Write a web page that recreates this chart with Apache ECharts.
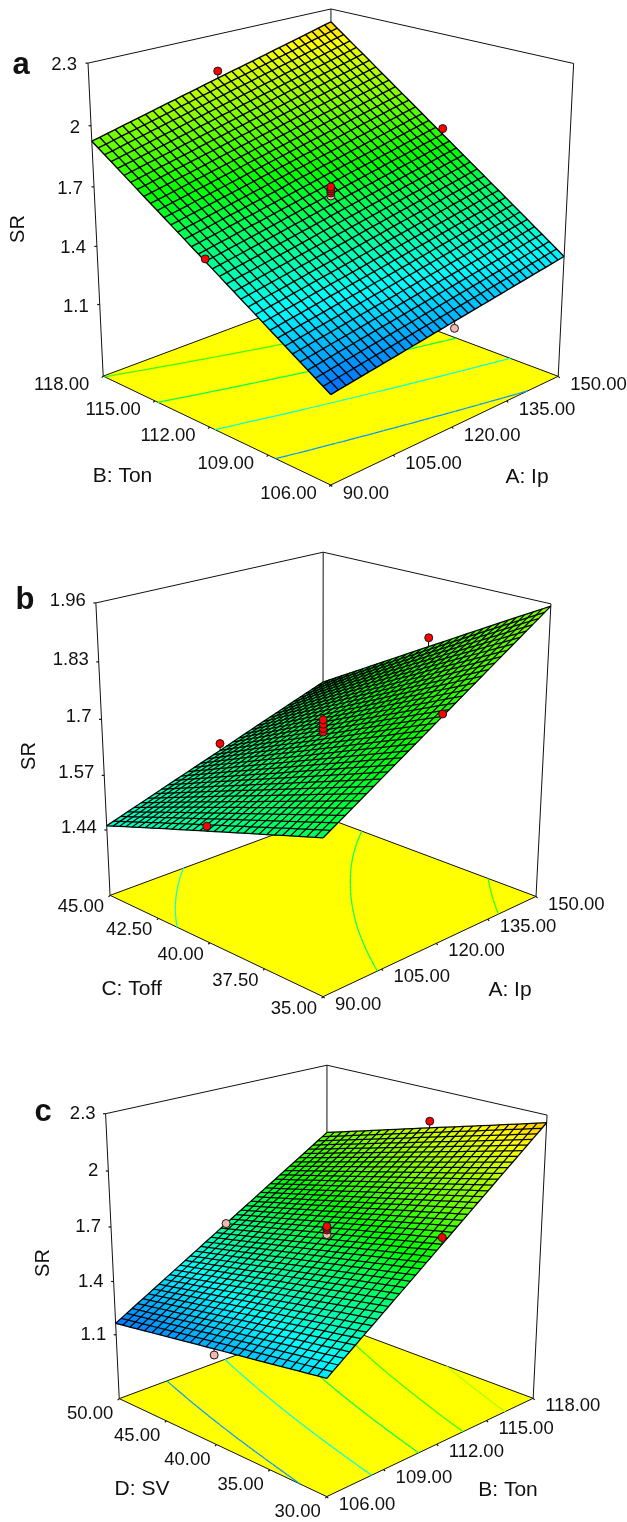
<!DOCTYPE html>
<html><head><meta charset="utf-8">
<style>html,body{margin:0;padding:0;background:#fff}#chart{width:627px;height:1522px}</style>
<script src="https://cdn.jsdelivr.net/npm/echarts@6/dist/echarts.min.js"></script>
</head><body><div id="chart"></div>
<script>
// ---------- data ----------
const ipTicks = [90, 105, 120, 135, 150];
const tonTicks = [106, 109, 112, 115, 118];
const toffTicks = [35, 37.5, 40, 42.5, 45];
const svTicks = [30, 35, 40, 45, 50];
const srTicksA = [1.1, 1.4, 1.7, 2, 2.3];
const srTicksB = [1.44, 1.57, 1.7, 1.83, 1.96];
const srTicksC = [1.1, 1.4, 1.7, 2, 2.3];
// SR at (row = second factor tick, column = first factor tick)
const surfaceA = [
  [1.150, 1.200, 1.250, 1.300, 1.350],
  [1.344, 1.401, 1.457, 1.514, 1.571],
  [1.538, 1.601, 1.665, 1.728, 1.791],
  [1.731, 1.802, 1.872, 1.942, 2.012],
  [1.925, 2.002, 2.079, 2.155, 2.232]];
const surfaceB = [
  [1.623, 1.706, 1.789, 1.872, 1.955],
  [1.580, 1.654, 1.728, 1.802, 1.876],
  [1.537, 1.602, 1.666, 1.731, 1.796],
  [1.494, 1.550, 1.605, 1.661, 1.716],
  [1.450, 1.497, 1.543, 1.590, 1.636]];
const surfaceC = [
  [1.340, 1.570, 1.800, 2.030, 2.260],
  [1.296, 1.515, 1.734, 1.952, 2.171],
  [1.253, 1.460, 1.668, 1.875, 2.083],
  [1.209, 1.405, 1.601, 1.797, 1.994],
  [1.165, 1.350, 1.535, 1.720, 1.905]];
const contourLevelsA = [1.32, 1.52, 1.72, 1.92];
const contourLevelsB = [1.51, 1.70, 1.89];
const contourLevelsC = [1.32, 1.52, 1.72, 1.92, 2.12];
// design points: first factor, second factor, SR, above surface (1) or below (0)
const pointsA = [[120,118,2.115,1],[150,112,1.82,1],[90,112,1.55,1],[120,106,1.215,0],
  [120,112,1.655,0],[120,112,1.67,1],[120,112,1.68,1],[120,112,1.69,1],[120,112,1.70,1]];
const pointsB = [[120,45,1.56,1],[150,40,1.817,1],[120,35,1.794,1],[90,40,1.548,1],
  [120,40,1.672,1],[120,40,1.68,1],[120,40,1.69,1],[120,40,1.70,1]];
const pointsC = [[118,40,2.12,1],[112,50,1.535,0],[112,30,1.835,1],[106,40,1.22,0],
  [112,40,1.66,0],[112,40,1.685,1],[112,40,1.695,1],[112,40,1.705,1]];
const srFloorA = 0.72, srFloorB = 1.28, srFloorC = 0.73;

// ---------- layout and styles ----------
const panels = [
 {letter:'a', letterAt:[21,65], xName:'A: Ip', yName:'B: Ton', xNameAt:[527,477], yNameAt:[122.5,476], srAt:[18,229],
  xTicks:ipTicks, yTicks:tonTicks, zTicks:srTicksA, table:surfaceA, levels:contourLevelsA, pts:pointsA, zFloor:srFloorA, mesh:[34,34], meshWidth:1.4,
  leftOff:[-14,9], rightOff:[12,9], zOff:[-11,2],
  F:[331,485], R:[558,376.5], L:[103,376], B:[331,291], TL:[88,63.3], TR:[573.6,63.3], TB:[331,9]},
 {letter:'b', letterAt:[25,600], xName:'A: Ip', yName:'C: Toff', xNameAt:[510,990], yNameAt:[131.6,989], srAt:[29,756],
  xTicks:ipTicks, yTicks:toffTicks, zTicks:srTicksB, table:surfaceB, levels:contourLevelsB, pts:pointsB, zFloor:srFloorB, mesh:[34,30], meshWidth:1.25,
  leftOff:[-6,12], rightOff:[12,8], zOff:[-10,-2],
  F:[323,997], R:[536,896], L:[110,895], B:[323,817], TL:[96,603], TR:[551,604], TB:[323,552]},
 {letter:'c', letterAt:[43,1112], xName:'B: Ton', yName:'D: SV', xNameAt:[508,1490], yNameAt:[142,1489], srAt:[43,1263],
  xTicks:tonTicks, yTicks:svTicks, zTicks:srTicksC, table:surfaceC, levels:contourLevelsC, pts:pointsC, zFloor:srFloorC, mesh:[42,26], meshWidth:1.25,
  leftOff:[-6,15], rightOff:[12,8], zOff:[-10,0],
  F:[327,1497], R:[533,1398], L:[119,1398], B:[327,1322], TL:[105.6,1114], TR:[547,1115], TB:[327,1065]}
];
const colorStops = [[0.98,[0,0,255]],[1.38,[0,255,255]],[1.74,[0,255,0]],[2.16,[255,255,0]],[2.6,[255,0,0]]];
const FONT = '"Liberation Sans", Arial, sans-serif';
const INK = '#111';

function srColor(z){
  let s = colorStops;
  if (z <= s[0][0]) return 'rgb(' + s[0][1] + ')';
  for (let i = 1; i < s.length; i++) if (z <= s[i][0]) {
    const t = (z - s[i-1][0]) / (s[i][0] - s[i-1][0]);
    return 'rgb(' + s[i][1].map((c, k) => Math.round(s[i-1][1][k] + (c - s[i-1][1][k]) * t)).join(',') + ')';
  }
  return 'rgb(' + s[s.length-1][1] + ')';
}

// Perspective camera of one box, fitted to its seven visible corners.
function fitCamera(p){
  const pairs = [[[0,0,0],p.F],[[1,0,0],p.R],[[0,1,0],p.L],[[1,1,0],p.B],[[0,1,1],p.TL],[[1,0,1],p.TR],[[1,1,1],p.TB]];
  const cx = 313, cy = p.F[1] - 200, sc = 300, N = 11;
  const M = Array.from({length:N}, () => new Array(N + 1).fill(0));
  const add = (row, rhs) => { for (let a = 0; a < N; a++) { for (let b = 0; b < N; b++) M[a][b] += row[a] * row[b]; M[a][N] += row[a] * rhs; } };
  pairs.forEach(([[u,v,w],[X,Y]]) => {
    const x = (X - cx) / sc, y = (Y - cy) / sc;
    add([u,v,w,1,0,0,0,0,-x*u,-x*v,-x*w], x);
    add([0,0,0,0,u,v,w,1,-y*u,-y*v,-y*w], y);
  });
  for (let c = 0; c < N; c++) {
    let piv = c;
    for (let r = c + 1; r < N; r++) if (Math.abs(M[r][c]) > Math.abs(M[piv][c])) piv = r;
    [M[c], M[piv]] = [M[piv], M[c]];
    for (let r = 0; r < N; r++) if (r !== c) {
      const f = M[r][c] / M[c][c];
      for (let k = c; k <= N; k++) M[r][k] -= f * M[c][k];
    }
  }
  const q = M.map((row, i) => row[N] / row[i]);
  return (u, v, w) => {
    const d = q[8]*u + q[9]*v + q[10]*w + 1;
    return [cx + sc * (q[0]*u + q[1]*v + q[2]*w + q[3]) / d, cy + sc * (q[4]*u + q[5]*v + q[6]*w + q[7]) / d];
  };
}

function surfaceAt(table, s, t){
  const n = table.length - 1;
  const i = Math.min(n - 1, Math.floor(t * n)), j = Math.min(n - 1, Math.floor(s * n));
  const ft = t * n - i, fs = s * n - j;
  return (table[i][j]*(1-fs) + table[i][j+1]*fs)*(1-ft) + (table[i+1][j]*(1-fs) + table[i+1][j+1]*fs)*ft;
}

const series = [];
function addSeries(name, items, draw){
  series.push({
    type:'custom', name, coordinateSystem:'cartesian2d', clip:false, silent:true, animation:false,
    progressive:0, z:series.length,
    data: items.map(() => [0, 0]),
    renderItem: (params, api) => draw(items[params.dataIndex], api)
  });
}
const polyline = (pts, stroke, lw) => (api) => ({type:'polyline', shape:{points:pts.map(p => api.coord(p))}, style:{fill:null, stroke, lineWidth:lw}});
const drawThunk = (f, api) => f(api);
const textItem = (pos, text, size, opts) => (api) => {
  const c = api.coord(pos);
  return {type:'text', x:c[0], y:c[1], rotation:(opts && opts.rotation) || 0,
    style:{text, fill:INK, font:((opts && opts.bold) ? 'bold ' : '') + size + 'px ' + FONT,
      textAlign:(opts && opts.align) || 'center', textVerticalAlign:'middle', align:(opts && opts.align) || 'center', verticalAlign:'middle'}};
};

panels.forEach(p => {
  const cam = fitCamera(p);
  const zTop = p.zTicks[p.zTicks.length - 1];
  const W = z => (z - p.zFloor) / (zTop - p.zFloor);
  const X = v => (v - p.xTicks[0]) / (p.xTicks[4] - p.xTicks[0]);
  const Y = v => (v - p.yTicks[0]) / (p.yTicks[4] - p.yTicks[0]);
  const [nx, ny] = p.mesh;

  // box behind the surface
  const tl = cam(0,1,1), tb = cam(1,1,1), tr = cam(1,0,1);
  const back = [[tl,tb],[tb,tr],[tl,cam(0,1,0)],[tr,cam(1,0,0)],[tb,cam(1,1,0)]];
  addSeries(p.letter + ' box', back.map(l => polyline(l, INK, 1)), drawThunk);

  // yellow floor
  const floor = [cam(0,0,0), cam(1,0,0), cam(1,1,0), cam(0,1,0)];
  addSeries(p.letter + ' floor', [api => ({type:'polygon', shape:{points:floor.map(c => api.coord(c))},
    style:{fill:'#ffff00', stroke:INK, lineWidth:1}})], drawThunk);

  // contours on the floor, tinted slightly cooler as in the reference
  const res = 48, segs = [];
  p.levels.forEach(lv => {
    for (let i = 0; i < res; i++) for (let j = 0; j < res; j++) {
      const s0 = j/res, s1 = (j+1)/res, t0 = i/res, t1 = (i+1)/res;
      const c = [[s0,t0],[s1,t0],[s1,t1],[s0,t1]];
      const hits = [];
      for (let k = 0; k < 4; k++) {
        const a = c[k], b = c[(k+1)%4];
        const za = surfaceAt(p.table, a[0], a[1]), zb = surfaceAt(p.table, b[0], b[1]);
        if ((za - lv) * (zb - lv) < 0) {
          const f = (lv - za) / (zb - za);
          hits.push(cam(a[0] + (b[0]-a[0])*f, a[1] + (b[1]-a[1])*f, 0));
        }
      }
      if (hits.length === 2) segs.push(polyline(hits, srColor(lv - 0.1), 1.25));
    }
  });
  addSeries(p.letter + ' contours', segs, drawThunk);

  // floor and SR ticks
  const ticks = [];
  p.xTicks.forEach(v => { const a = cam(X(v),0,0); ticks.push(polyline([a,[a[0]+1.5,a[1]+1.5]], INK, 1.2)); });
  p.yTicks.forEach(v => { const a = cam(0,Y(v),0); ticks.push(polyline([a,[a[0]-1.5,a[1]+1.5]], INK, 1.2)); });
  p.zTicks.forEach(v => { const a = cam(0,1,W(v)); ticks.push(polyline([[a[0]-2.5,a[1]],a], INK, 1.2)); });
  addSeries(p.letter + ' ticks', ticks, drawThunk);

  // surface cells
  const cells = [];
  for (let i = 0; i < ny; i++) for (let j = 0; j < nx; j++) {
    const pt = (a, b) => { const s = a/nx, t = b/ny; return cam(s, t, W(surfaceAt(p.table, s, t))); };
    const poly = [pt(j,i), pt(j+1,i), pt(j+1,i+1), pt(j,i+1)];
    const col = srColor(surfaceAt(p.table, (j+.5)/nx, (i+.5)/ny));
    cells.push(api => ({type:'polygon', shape:{points:poly.map(c => api.coord(c))}, style:{fill:col, stroke:col, lineWidth:0.5}}));
  }
  addSeries(p.letter + ' surface', cells, drawThunk);

  // surface mesh lines
  const lines = [];
  for (let j = 0; j <= nx; j++) { const pts = []; for (let i = 0; i <= ny; i++) pts.push(cam(j/nx, i/ny, W(surfaceAt(p.table, j/nx, i/ny)))); lines.push(polyline(pts, '#000', p.meshWidth)); }
  for (let i = 0; i <= ny; i++) { const pts = []; for (let j = 0; j <= nx; j++) pts.push(cam(j/nx, i/ny, W(surfaceAt(p.table, j/nx, i/ny)))); lines.push(polyline(pts, '#000', p.meshWidth)); }
  addSeries(p.letter + ' mesh', lines, drawThunk);

  // design points with stems
  const stems = [], dots = [];
  p.pts.forEach(d => {
    const s = X(d[0]), t = Y(d[1]);
    const a = cam(s, t, W(d[2])), b = cam(s, t, W(surfaceAt(p.table, s, t)));
    stems.push(polyline([a,b], '#000', 1));
    dots.push(api => { const c = api.coord(a); return {type:'circle', shape:{cx:c[0], cy:c[1], r:4},
      style:{fill:d[3] ? '#ff0000' : '#f4b8ae', stroke:'#1a1a1a', lineWidth:1}}; });
  });
  addSeries(p.letter + ' stems', stems, drawThunk);
  addSeries(p.letter + ' points', dots, drawThunk);

  // text
  const texts = [];
  const fmt = v => v.toFixed(2);
  p.xTicks.forEach(v => { const a = cam(X(v),0,0); texts.push(textItem([a[0]+p.rightOff[0], a[1]+p.rightOff[1]], fmt(v), 18.5, {align:'left'})); });
  p.yTicks.forEach(v => { const a = cam(0,Y(v),0); texts.push(textItem([a[0]+p.leftOff[0], a[1]+p.leftOff[1]], fmt(v), 18.5, {align:'right'})); });
  p.zTicks.forEach(v => { const a = cam(0,1,W(v)); texts.push(textItem([a[0]+p.zOff[0], a[1]+p.zOff[1]], String(v), 18.5, {align:'right'})); });
  texts.push(textItem(p.xNameAt, p.xName, 21));
  texts.push(textItem(p.yNameAt, p.yName, 21));
  texts.push(textItem(p.srAt, 'SR', 20, {rotation:Math.PI/2}));
  texts.push(textItem(p.letterAt, p.letter, 31, {bold:true}));
  addSeries(p.letter + ' text', texts, drawThunk);
});

const chart = echarts.init(document.getElementById('chart'), null, {renderer:'canvas'});
chart.setOption({
  animation:false, backgroundColor:'#fff',
  grid:{left:0, right:0, top:0, bottom:0},
  xAxis:{type:'value', min:0, max:627, show:false},
  yAxis:{type:'value', min:0, max:1522, inverse:true, show:false},
  series
});
</script></body></html>
